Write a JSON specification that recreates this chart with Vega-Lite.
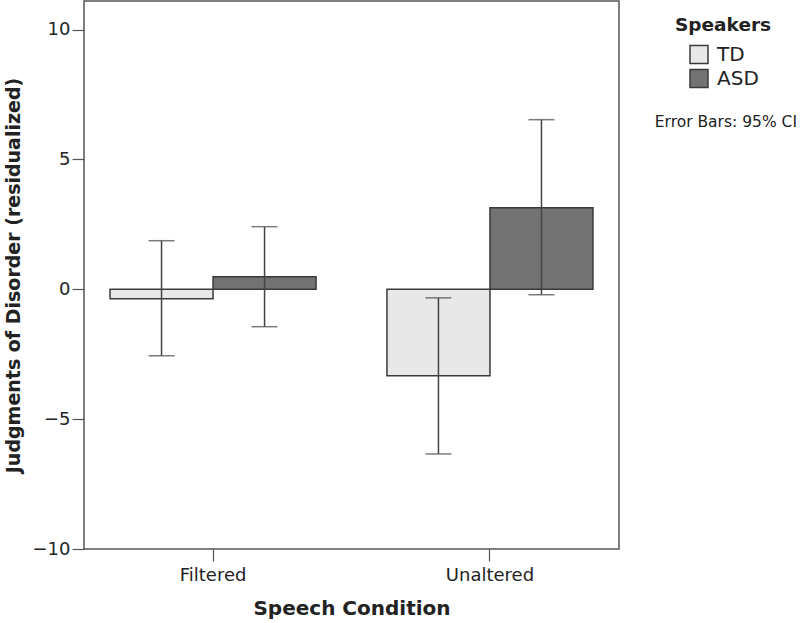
{
  "$schema": "https://vega.github.io/schema/vega-lite/v6.json",
  "width": 535,
  "height": 548,
  "autosize": {"type": "none"},
  "padding": {"left": 84, "top": 1, "right": 181, "bottom": 74},
  "background": "white",
  "config": {
    "font": "DejaVu Sans",
    "view": {"stroke": "#555555", "strokeWidth": 1.5},
    "axis": {"grid": false, "domain": false, "tickColor": "#555555", "tickWidth": 1.2, "tickSize": 12, "labelColor": "#222222", "titleColor": "#222222", "labelFontSize": 18, "titleFontSize": 19, "titleFontWeight": "bold"}
  },
  "title": {"text": "Error Bars: 95% CI", "orient": "top", "anchor": "end", "frame": "group", "offset": 0, "dx": 178, "dy": 141, "baseline": "alphabetic", "fontSize": 15.5, "fontWeight": "normal", "color": "#222222"},
  "data": {"values": [
    {"condition": "Filtered", "speakers": "TD", "mean": -0.36, "lo": -2.56, "hi": 1.87},
    {"condition": "Filtered", "speakers": "ASD", "mean": 0.48, "lo": -1.44, "hi": 2.41},
    {"condition": "Unaltered", "speakers": "TD", "mean": -3.33, "lo": -6.34, "hi": -0.33},
    {"condition": "Unaltered", "speakers": "ASD", "mean": 3.14, "lo": -0.21, "hi": 6.53}
  ]},
  "encoding": {
    "x": {"field": "condition", "type": "nominal", "sort": ["Filtered", "Unaltered"], "title": "Speech Condition", "scale": {"paddingInner": 0.256, "paddingOuter": 0.094}, "axis": {"labelAngle": 0, "labelPadding": 5, "titlePadding": 14, "titleFontSize": 20}},
    "xOffset": {"field": "speakers", "type": "nominal", "sort": ["TD", "ASD"], "scale": {"paddingInner": 0, "paddingOuter": 0}}
  },
  "layer": [
    {
      "mark": {"type": "bar", "stroke": "#3a3a3a", "strokeWidth": 1.5},
      "encoding": {
        "y": {"field": "mean", "type": "quantitative", "title": "Judgments of Disorder (residualized)", "scale": {"domain": [-10, 11.1], "nice": false, "zero": false}, "axis": {"values": [-10, -5, 0, 5, 10], "labelPadding": 2, "titlePadding": 9}},
        "fill": {"field": "speakers", "type": "nominal", "sort": ["TD", "ASD"], "scale": {"domain": ["TD", "ASD"], "range": ["#e8e8e8", "#737373"]}, "legend": {"title": "Speakers", "orient": "none", "legendX": 591, "legendY": 15, "titleAnchor": "start", "symbolType": "square", "symbolSize": 324, "symbolStrokeColor": "#3a3a3a", "symbolStrokeWidth": 1.5, "labelFontSize": 20, "titleFontSize": 18.5, "titleFontWeight": "bold", "titleColor": "#222222", "labelColor": "#222222", "rowPadding": 0, "titlePadding": 10, "labelOffset": 8, "encode": {"title": {"update": {"dx": {"value": -14}}}}}}
      }
    },
    {
      "mark": {"type": "rule", "color": "#444444", "strokeWidth": 1.5},
      "encoding": {
        "y": {"field": "lo", "type": "quantitative"},
        "y2": {"field": "hi"}
      }
    },
    {
      "mark": {"type": "tick", "color": "#444444", "thickness": 1.5, "size": 26},
      "encoding": {"y": {"field": "lo", "type": "quantitative"}}
    },
    {
      "mark": {"type": "tick", "color": "#444444", "thickness": 1.5, "size": 26},
      "encoding": {"y": {"field": "hi", "type": "quantitative"}}
    }
  ]
}
